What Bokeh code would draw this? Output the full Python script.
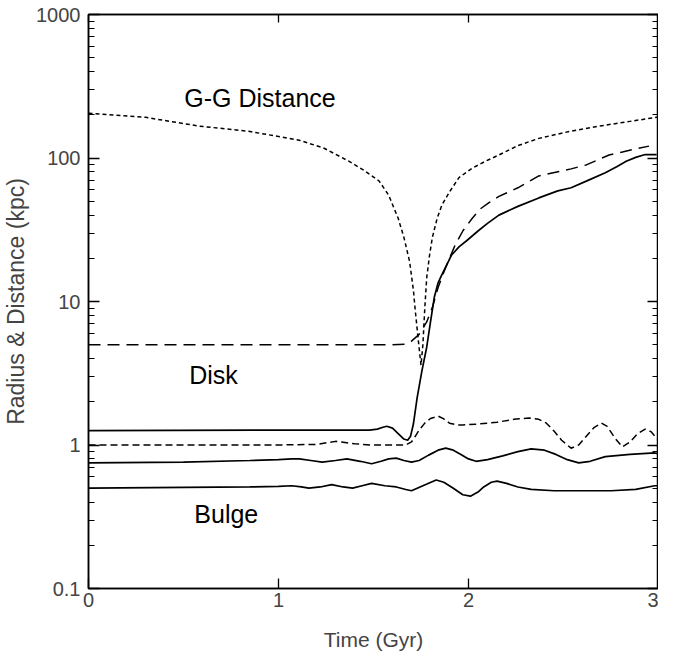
from bokeh.plotting import figure
from bokeh.models import Range1d, FixedTicker, LogAxis, LinearAxis, Label
from bokeh.embed import file_html
from bokeh.resources import INLINE

# ---- data ----
gg_t = [0, 0.30, 0.58, 0.85, 1.11, 1.24, 1.37, 1.45, 1.53, 1.58, 1.63, 1.66, 1.69,
        1.71, 1.72, 1.735, 1.75, 1.76, 1.77, 1.78, 1.795, 1.81, 1.835, 1.86, 1.90,
        1.95, 2.02, 2.09, 2.16, 2.26, 2.37, 2.53, 2.69, 2.85, 3.0]
gg_r = [205, 192, 167, 153, 133, 117, 95, 82, 69, 55, 38, 28, 19,
        12, 8.6, 5.5, 3.6, 5.0, 9.0, 14.6, 21, 28, 38, 47, 58,
        73, 85, 95, 105, 122, 137, 153, 167, 180, 193]

disk_out_t = [0, 1.0, 1.60, 1.67, 1.70, 1.74, 1.78, 1.81, 1.84, 1.87, 1.90, 1.93,
              1.97, 2.02, 2.06, 2.11, 2.16, 2.26, 2.37, 2.44, 2.54, 2.62, 2.68,
              2.74, 2.81, 2.88, 2.95]
disk_out_r = [5.0, 5.0, 5.0, 5.05, 5.3, 5.9, 7.2, 9.1, 12.5, 16, 20, 24.8,
              31, 38, 44, 49, 54, 62, 75, 78.6, 84, 89.5, 97,
              105, 110, 116, 121]

disk_sol_t = [0, 1.0, 1.48, 1.52, 1.55, 1.57, 1.60, 1.63, 1.66, 1.68, 1.695, 1.71,
              1.73, 1.755, 1.78, 1.80, 1.82, 1.84, 1.86, 1.91, 1.95, 1.99, 2.05,
              2.10, 2.16, 2.26, 2.37, 2.47, 2.54, 2.62, 2.72, 2.78, 2.83, 2.88,
              2.93, 2.99]
disk_sol_r = [1.26, 1.27, 1.27, 1.29, 1.33, 1.35, 1.31, 1.2, 1.1, 1.08, 1.15, 1.4,
              2.15, 3.3, 4.8, 7.2, 10.7, 13.5, 15.4, 21, 24, 26.5, 31,
              35, 40, 46, 52.7, 59, 62, 69, 79, 87, 95, 101,
              105.7, 105.7]

disk_in_t = [0, 1.0, 1.2, 1.26, 1.30, 1.35, 1.40, 1.49, 1.60, 1.67, 1.70, 1.72,
             1.74, 1.77, 1.80, 1.84, 1.87, 1.90, 1.94, 1.97, 2.05, 2.15, 2.25,
             2.32, 2.37, 2.41, 2.45, 2.49, 2.54, 2.58, 2.62, 2.66, 2.70, 2.73,
             2.77, 2.81, 2.85, 2.89, 2.93, 2.96, 3.0]
disk_in_r = [1.0, 1.0, 1.01, 1.04, 1.06, 1.04, 1.02, 1.0, 1.0, 1.0, 1.05, 1.15,
             1.27, 1.42, 1.53, 1.59, 1.52, 1.42, 1.38, 1.38, 1.40, 1.44, 1.52,
             1.54, 1.51, 1.42, 1.25, 1.08, 0.95, 1.0, 1.15, 1.32, 1.42, 1.35,
             1.12, 0.97, 1.05, 1.2, 1.29, 1.24, 1.08]

bulge_out_t = [0, 0.5, 0.85, 1.0, 1.07, 1.11, 1.17, 1.23, 1.30, 1.36, 1.43, 1.49,
               1.54, 1.58, 1.62, 1.66, 1.70, 1.74, 1.79, 1.84, 1.88, 1.92, 1.96,
               2.00, 2.04, 2.10, 2.18, 2.26, 2.33, 2.40, 2.46, 2.52, 2.58, 2.64,
               2.72, 2.85, 2.98, 3.0]
bulge_out_r = [0.75, 0.76, 0.78, 0.79, 0.8, 0.8, 0.78, 0.76, 0.78, 0.8, 0.77, 0.74,
               0.77, 0.8, 0.81, 0.78, 0.76, 0.78, 0.85, 0.92, 0.95, 0.92, 0.86,
               0.8, 0.77, 0.79, 0.84, 0.9, 0.94, 0.92, 0.86, 0.79, 0.75, 0.77,
               0.83, 0.86, 0.88, 0.87]

bulge_t = [0, 0.85, 1.00, 1.07, 1.12, 1.16, 1.22, 1.28, 1.34, 1.39, 1.44, 1.49,
           1.56, 1.62, 1.67, 1.70, 1.76, 1.83, 1.87, 1.92, 1.97, 2.01, 2.05,
           2.08, 2.12, 2.15, 2.20, 2.26, 2.33, 2.45, 2.55, 2.75, 2.88, 2.98, 3.0]
bulge_r = [0.50, 0.51, 0.515, 0.52, 0.51, 0.50, 0.51, 0.53, 0.51, 0.50, 0.52, 0.54,
           0.52, 0.51, 0.49, 0.48, 0.52, 0.57, 0.55, 0.50, 0.45, 0.44, 0.47,
           0.51, 0.55, 0.56, 0.54, 0.51, 0.49, 0.48, 0.48, 0.48, 0.49, 0.52, 0.52]

x_ticks = [0, 1, 2, 3]
x_tick_labels = ["0", "1", "2", "3"]
y_ticks = [0.1, 1, 10, 100, 1000]
y_tick_labels = ["0.1", "1", "10", "100", "1000"]

FONT = "Liberation Sans"

p = figure(width=658, height=653, y_axis_type="log",
           x_range=Range1d(0, 3), y_range=Range1d(0.1, 1000),
           output_backend="svg", toolbar_location=None,
           min_border_left=87, min_border_right=0,
           min_border_top=14, min_border_bottom=63)
p.grid.visible = False
p.outline_line_color = "black"
p.outline_line_width = 1.5
p.background_fill_color = "white"
p.border_fill_color = "white"

minor_y = [m * d for d in [0.1, 1, 10, 100] for m in range(2, 10)]

# bottom / left axes
xa = p.xaxis[0]
xa.ticker = FixedTicker(ticks=x_ticks)
xa.major_label_overrides = {t: l for t, l in zip(x_ticks, x_tick_labels)}
xa.major_tick_in = 10
xa.major_tick_out = 0
xa.minor_tick_line_color = None
xa.axis_line_width = 1.5
xa.major_tick_line_width = 1.3
xa.major_label_text_font = FONT
xa.major_label_text_font_size = "20px"
xa.major_label_standoff = 4
xa.axis_label = "Time (Gyr)"
xa.axis_label_text_font = FONT
xa.axis_label_text_font_size = "21px"
xa.axis_label_text_font_style = "normal"
xa.axis_label_standoff = 18

ya = p.yaxis[0]
ya.ticker = FixedTicker(ticks=y_ticks, minor_ticks=minor_y)
ya.major_label_overrides = {t: l for t, l in zip(y_ticks, y_tick_labels)}
ya.major_tick_in = 11
ya.major_tick_out = 0
ya.minor_tick_in = 6
ya.minor_tick_out = 0
ya.axis_line_width = 1.5
ya.major_tick_line_width = 1.3
ya.minor_tick_line_width = 1.2
ya.major_label_text_font = FONT
ya.major_label_text_font_size = "20px"
ya.major_label_standoff = 8
ya.axis_label = "Radius & Distance (kpc)"
ya.axis_label_text_font = FONT
ya.axis_label_text_font_size = "23px"
ya.axis_label_text_font_style = "normal"
ya.axis_label_standoff = 4

# right / top axes (ticks only, labels invisible)
ra = LogAxis(ticker=FixedTicker(ticks=y_ticks, minor_ticks=minor_y),
             major_tick_in=11, major_tick_out=0, minor_tick_in=6, minor_tick_out=0,
             major_label_text_font_size="1px", major_label_text_alpha=0,
             major_label_standoff=0,
             axis_line_width=1.5, major_tick_line_width=1.3, minor_tick_line_width=1.2)
p.add_layout(ra, "right")
ta = LinearAxis(ticker=FixedTicker(ticks=x_ticks),
                major_tick_in=8, major_tick_out=0, minor_tick_line_color=None,
                major_label_text_font_size="1px", major_label_text_alpha=0,
                major_label_standoff=0,
                axis_line_width=1.5, major_tick_line_width=1.3)
p.add_layout(ta, "above")

# curves
p.line(gg_t, gg_r, line_color="black", line_width=1.5, line_dash="4 3")
p.line(disk_out_t, disk_out_r, line_color="black", line_width=1.5, line_dash="12 7")
p.line(disk_sol_t, disk_sol_r, line_color="black", line_width=1.7)
p.line(disk_in_t, disk_in_r, line_color="black", line_width=1.5, line_dash="7 4")
p.line(bulge_out_t, bulge_out_r, line_color="black", line_width=1.7)
p.line(bulge_t, bulge_r, line_color="black", line_width=1.7)

# annotations
for txt, x, y in [("G-G Distance", 0.504, 261), ("Disk", 0.53, 3.06), ("Bulge", 0.557, 0.331)]:
    p.add_layout(Label(x=x, y=y, text=txt, text_font=FONT, text_font_size="25px",
                       text_baseline="middle", text_align="left", text_color="black"))

open("out.html", "w").write(file_html(p, INLINE))
